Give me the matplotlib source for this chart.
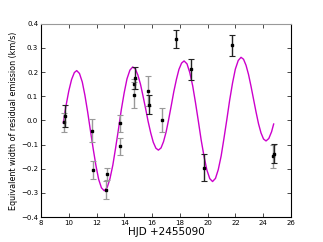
import matplotlib
matplotlib.use("Agg")
import matplotlib.pyplot as plt

# model curve
curve_x = [9.6, 9.8, 10.0, 10.2, 10.4, 10.57,
           10.77, 10.97, 11.16, 11.36, 11.56, 11.76, 11.96, 12.15, 12.35, 12.55,
           12.76, 12.96, 13.17, 13.37, 13.58, 13.78, 13.99, 14.19, 14.40, 14.6,
           14.79, 14.97, 15.16, 15.34, 15.53, 15.71, 15.90, 16.08, 16.27, 16.45,
           16.64, 16.82, 17.01, 17.19, 17.38, 17.56, 17.75, 17.93, 18.12, 18.3,
           18.51, 18.71, 18.92, 19.12, 19.33, 19.53, 19.74, 19.94, 20.15, 20.35,
           20.56, 20.76, 20.97, 21.17, 21.38, 21.58, 21.79, 21.99, 22.20, 22.4,
           22.58, 22.76, 22.94, 23.12, 23.30, 23.48, 23.66, 23.84, 24.02, 24.2,
           24.4, 24.6, 24.75]
curve_y = [-0.010, 0.061, 0.122, 0.169, 0.198, 0.206,
           0.194, 0.159, 0.104, 0.034, -0.043, -0.119, -0.189, -0.244, -0.279, -0.291,
           -0.278, -0.242, -0.185, -0.114, -0.035, 0.044, 0.115, 0.172, 0.208, 0.221,
           0.213, 0.188, 0.150, 0.102, 0.049, -0.004, -0.052, -0.090, -0.115, -0.123,
           -0.114, -0.088, -0.047, 0.004, 0.062, 0.119, 0.170, 0.211, 0.237, 0.246,
           0.234, 0.198, 0.143, 0.074, -0.004, -0.081, -0.150, -0.205, -0.241, -0.253,
           -0.240, -0.204, -0.147, -0.075, 0.004, 0.083, 0.155, 0.212, 0.248, 0.261,
           0.253, 0.228, 0.190, 0.141, 0.088, 0.035, -0.014, -0.052, -0.077, -0.085,
           -0.075, -0.047, -0.015]

# measurements with grey error bars
grey_x = [9.68, 11.68, 11.75, 12.66, 12.74, 13.70, 13.72, 14.66, 14.70, 15.72, 16.70, 24.72]
grey_y = [-0.008, -0.042, -0.205, -0.287, -0.222, -0.012, -0.108, 0.150, 0.105, 0.120, 0.000, -0.148]
grey_err = [0.040, 0.047, 0.037, 0.037, 0.026, 0.034, 0.037, 0.020, 0.053, 0.062, 0.050, 0.048]

# measurements with black error bars
black_x = [9.75, 14.78, 15.80, 17.70, 18.78, 19.75, 21.75, 24.80]
black_y = [0.018, 0.176, 0.065, 0.337, 0.211, -0.195, 0.310, -0.137]
black_err = [0.045, 0.045, 0.039, 0.038, 0.042, 0.055, 0.043, 0.038]

fig = plt.figure(figsize=(3.23, 2.42), dpi=100)
ax = fig.add_axes([0.127, 0.103, 0.774, 0.799])

ax.plot(curve_x, curve_y, color="#cc00cc", lw=1.0, zorder=1)
ax.errorbar(grey_x, grey_y, yerr=grey_err, fmt="s", ms=1.5, color="black",
            ecolor="#999999", elinewidth=1.0, capsize=2, capthick=0.8, zorder=2)
ax.errorbar(black_x, black_y, yerr=black_err, fmt="s", ms=1.5, color="black",
            ecolor="#222222", elinewidth=1.0, capsize=2, capthick=0.8, zorder=3)

ax.set_xlim(8, 26)
ax.set_ylim(-0.4, 0.4)
ax.set_xticks(range(8, 27, 2))
ax.set_yticks([-0.4, -0.3, -0.2, -0.1, 0.0, 0.1, 0.2, 0.3, 0.4])
ax.set_yticklabels([f"{v:.1f}".replace("-", "\u2212") for v in ax.get_yticks()])
ax.tick_params(direction="in", top=True, right=True, labelsize=5, length=3,
               width=0.5, pad=2)
for s in ax.spines.values():
    s.set_linewidth(0.8)
ax.spines["top"].set_color("#999999")

ax.set_xlabel("HJD +2455090", fontsize=7.5, labelpad=1)
ax.set_ylabel("Equivalent width of residual emission (km/s)", fontsize=5.8, labelpad=2)

fig.savefig("out.png", dpi=100)
